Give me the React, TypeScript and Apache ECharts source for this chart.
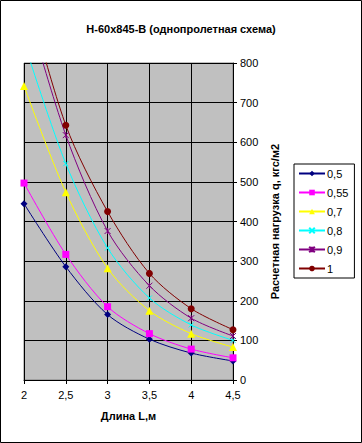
import React, { useEffect, useRef } from "react";
import * as echarts from "echarts";

const xValues = [2, 2.5, 3, 3.5, 4, 4.5];
const seriesNames = ["0,5", "0,55", "0,7", "0,8", "0,9", "1"];
const s05 = [445, 286, 165, 103, 68, 48];
const s055 = [497, 317, 185, 117, 78, 56];
const s07 = [742, 474, 282, 175, 117, 83];
const s08 = [853, 546, 333, 207, 139, 100];
const s09 = [966, 618, 376, 238, 156, 111];
const s1 = [1005, 643, 425, 269, 180, 127];
const seriesValues = [s05, s055, s07, s08, s09, s1];
const colors = ["#000080", "#FF00FF", "#FFFF00", "#00FFFF", "#800080", "#800000"];
const symbols = [
  "diamond",
  "rect",
  "triangle",
  "path://M0,0L10,10M10,0L0,10",
  "path://M0,0L10,10M10,0L0,10M5,0L5,10",
  "circle",
];
const symbolSizes = [7, 7, 8, 5, 6, 7];

const FONT = "Arial, 'Liberation Sans', sans-serif";

export default function App() {
  const ref = useRef<HTMLDivElement>(null);
  useEffect(() => {
    if (!ref.current) return;
    const chart = echarts.init(ref.current, undefined, { renderer: "svg" });
    const series = seriesValues.map((vals, i) => {
      const isStroke = i === 3 || i === 4;
      return {
        name: seriesNames[i],
        type: "line",
        data: vals.map((v, j) => [xValues[j], v]),
        smooth: 0.3,
        symbol: symbols[i],
        symbolSize: symbolSizes[i],
        showSymbol: true,
        clip: true,
        lineStyle: { color: colors[i], width: 1 },
        itemStyle: isStroke
          ? { color: colors[i], borderColor: colors[i], borderWidth: 1 }
          : { color: colors[i], borderWidth: 0 },
      };
    });
    chart.setOption({
      animation: false,
      backgroundColor: "#ffffff",
      textStyle: { fontFamily: FONT },
      title: {
        text: "Н-60х845-В (однопролетная схема)",
        left: "center",
        top: 18,
        textStyle: { fontSize: 11, fontWeight: "bold", color: "#000", fontFamily: FONT },
      },
      grid: {
        left: 24,
        right: 129,
        top: 63,
        bottom: 63,
        show: true,
        backgroundColor: "#C0C0C0",
        borderColor: "#808080",
        borderWidth: 1,
      },
      legend: {
        orient: "vertical",
        left: 294,
        top: 164,
        borderColor: "#000",
        borderWidth: 1,
        padding: [3, 6, 3, 4],
        itemWidth: 26,
        itemHeight: 7,
        itemGap: 6,
        textStyle: { fontSize: 11, color: "#000", fontFamily: FONT, padding: [0, 0, 0, -3], lineHeight: 13 },
        data: seriesNames,
      },
      xAxis: {
        type: "value",
        min: 2,
        max: 4.5,
        interval: 0.5,
        name: "Длина L,м",
        nameLocation: "middle",
        nameGap: 30,
        nameTextStyle: { fontSize: 11, fontWeight: "bold", color: "#000", fontFamily: FONT },
        axisLine: { show: true, lineStyle: { color: "#000", width: 1 } },
        axisTick: { show: true, length: 4, lineStyle: { color: "#000" } },
        axisLabel: {
          fontSize: 11,
          color: "#000",
          margin: 9,
          fontFamily: FONT,
          formatter: (v: number) => String(v).replace(".", ","),
        },
        splitLine: { show: true, lineStyle: { color: "#000", width: 1 } },
      },
      yAxis: {
        type: "value",
        position: "right",
        min: 0,
        max: 800,
        interval: 100,
        name: "Расчетная нагрузка q, кгс/м2",
        nameLocation: "middle",
        nameRotate: 90,
        nameGap: 33,
        nameTextStyle: { fontSize: 11, fontWeight: "bold", color: "#000", fontFamily: FONT },
        axisLine: { show: true, lineStyle: { color: "#000", width: 1 } },
        axisTick: { show: true, length: 4, lineStyle: { color: "#000" } },
        axisLabel: { fontSize: 11, color: "#000", margin: 7, fontFamily: FONT },
        splitLine: { show: true, lineStyle: { color: "#000", width: 1 } },
      },
      graphic: [
        {
          type: "rect",
          shape: { x: 0.5, y: 0.5, width: 361, height: 442 },
          style: { fill: "none", stroke: "#000", lineWidth: 1 },
          silent: true,
          z: 100,
        },
      ],
      series,
    });
    return () => chart.dispose();
  }, []);
  return (
    <div
      ref={ref}
      style={{ position: "absolute", left: 0, top: 0, width: 362, height: 443 }}
    />
  );
}
